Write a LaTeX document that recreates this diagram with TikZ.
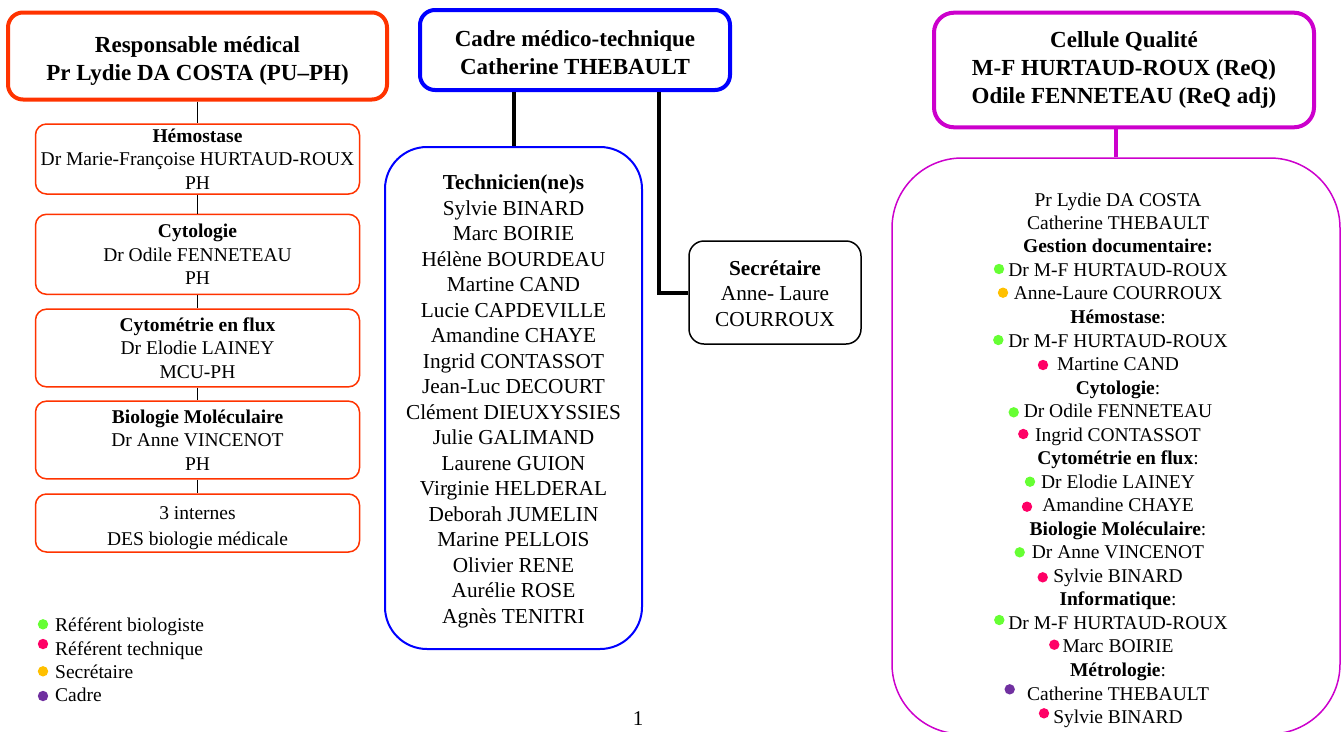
\documentclass[tikz,border=0pt]{standalone}
\usepackage{fontspec}
\setmainfont{Liberation Serif}
\definecolor{redor}{HTML}{FF3300}
\definecolor{bblue}{HTML}{0000FF}
\definecolor{mag}{HTML}{CC00CC}
\definecolor{bgreen}{HTML}{66FF33}
\definecolor{bpink}{HTML}{FF0066}
\definecolor{byellow}{HTML}{FFC000}
\definecolor{bpurple}{HTML}{7030A0}
\newcommand{\tallstrut}[1]{\rule{0pt}{#1}}
\begin{document}
\begin{tikzpicture}[x=1pt,y=-1pt,
  head/.style={draw, line width=4pt, rounded corners=15pt, align=center, inner sep=0pt,
    font=\fontsize{23}{27.8}\selectfont\bfseries},
  subbox/.style={draw=redor, line width=1.5pt, rounded corners=11pt, align=center, inner sep=0pt,
    minimum width=324pt, font=\fontsize{19.5}{23.3}\selectfont},
  bigfont/.style={font=\fontsize{21.3}{25.5}\selectfont},
  qline/.style={inner sep=0pt, anchor=base, font=\fontsize{19.5}{23.5}\selectfont},
  leg/.style={inner sep=0pt, anchor=base west, font=\fontsize{19.5}{23.5}\selectfont},
  thinlink/.style={draw, line width=1.2pt},
  thicklink/.style={draw, line width=4pt},
]
\useasboundingbox (0,0) rectangle (1341,731);
\begin{scope}
\clip (0,0) rectangle (1341,731);

% headers
\node[head, draw=redor, minimum width=379pt, minimum height=87pt] (resp) at (197.5,56)
  {\tallstrut{26pt}Responsable médical\\Pr Lydie DA COSTA (PU–PH)};
\node[head, draw=bblue, minimum width=310pt, minimum height=80pt] (cadre) at (575,50)
  {\tallstrut{22pt}Cadre médico-technique\\Catherine THEBAULT};
\node[head, draw=mag, rounded corners=20pt, minimum width=380pt, minimum height=114.6pt, font=\fontsize{23}{28.3}\selectfont\bfseries] (cq) at (1124,70)
  {Cellule Qualité\\M-F HURTAUD-ROUX (ReQ)\\Odile FENNETEAU (ReQ adj)};

% left column
\node[subbox, minimum height=70pt] (hemo) at (197.5,159)
  {\textbf{Hémostase}\\Dr Marie-Françoise HURTAUD-ROUX\\PH};
\node[subbox, minimum height=80pt] (cyto) at (197.5,254.3)
  {\textbf{Cytologie}\\Dr Odile FENNETEAU\\PH};
\node[subbox, minimum height=77.7pt] (flux) at (197.5,348)
  {\textbf{Cytométrie en flux}\\Dr Elodie LAINEY\\MCU-PH};
\node[subbox, minimum height=77.7pt] (biomol) at (197.5,440)
  {\textbf{Biologie Moléculaire}\\Dr Anne VINCENOT\\PH};
\node[subbox, minimum height=58pt, font=\fontsize{19.5}{25.5}\selectfont] (int) at (197.5,523)
  {\tallstrut{23pt}3 internes\\DES biologie médicale};
\draw[thinlink] (resp.south) -- (hemo.north);
\draw[thinlink] (hemo.south) -- (cyto.north);
\draw[thinlink] (cyto.south) -- (flux.north);
\draw[thinlink] (flux.south) -- (biomol.north);
\draw[thinlink] (biomol.south) -- (int.north);

% technicians
\node[draw=bblue, line width=2pt, rounded corners=42pt, minimum width=257pt, minimum height=502pt,
  align=center, inner sep=0pt, bigfont] (tech) at (513.5,398)
  {\tallstrut{22pt}\textbf{Technicien(ne)s}\\Sylvie BINARD\\Marc BOIRIE\\Hélène BOURDEAU\\Martine CAND\\Lucie CAPDEVILLE\\
   Amandine CHAYE\\Ingrid CONTASSOT\\Jean-Luc DECOURT\\Clément DIEUXYSSIES\\Julie GALIMAND\\
   Laurene GUION\\Virginie HELDERAL\\Deborah JUMELIN\\Marine PELLOIS\\Olivier RENE\\Aurélie ROSE\\Agnès TENITRI};
\node[draw, line width=1.5pt, rounded corners=15pt, minimum width=172pt, minimum height=103pt,
  align=center, inner sep=0pt, bigfont] (secr) at (775,292.5)
  {\tallstrut{17pt}\textbf{Secrétaire}\\Anne- Laure\\COURROUX};
\coordinate (sx) at (659,0);
\draw[thicklink] (tech.north) -- (tech.north |- cadre.south);
\draw[thicklink] (cadre.south -| sx) |- (secr.west);

% quality cell
\node[draw=mag, line width=1.5pt, rounded corners=70pt, minimum width=448pt, minimum height=576pt, inner sep=0pt] (qbox) at (1116,446) {};
\draw[thicklink, draw=mag] (qbox.north) -- (qbox.north |- cq.south);

\foreach \n/\y/\t in {
  1/206.5/{Pr Lydie DA COSTA},
  2/229.5/{Catherine THEBAULT},
  3/252.5/{\textbf{Gestion documentaire:}},
  4/276.5/{Dr M-F HURTAUD-ROUX},
  5/299.5/{Anne-Laure COURROUX},
  6/323.5/{\textbf{Hémostase}:},
  7/347.5/{Dr M-F HURTAUD-ROUX},
  8/370.5/{Martine CAND},
  9/394.5/{\textbf{Cytologie}:},
  10/417.5/{Dr Odile FENNETEAU},
  11/441.5/{Ingrid CONTASSOT},
  12/464.5/{\textbf{Cytométrie en flux}:},
  13/488.5/{Dr Elodie LAINEY},
  14/511.5/{Amandine CHAYE},
  15/535.5/{\textbf{Biologie Moléculaire}:},
  16/558.5/{Dr Anne VINCENOT},
  17/582.5/{Sylvie BINARD},
  18/605.5/{\textbf{Informatique}:},
  19/629.5/{Dr M-F HURTAUD-ROUX},
  20/652.5/{Marc BOIRIE},
  21/676.5/{\textbf{Métrologie}:},
  22/700.5/{Catherine THEBAULT},
  23/723.5/{Sylvie BINARD}}
  \node[qline] (q\n) at (1118,\y) {\t};

\foreach \x/\y/\c in {999/269/bgreen, 1003/292.7/byellow, 998.3/340/bgreen, 1043/365/bpink,
  1013.7/412.3/bgreen, 1023.3/434/bpink, 1030/481.7/bgreen, 1027/506.7/bpink,
  1019.7/552.3/bgreen, 1042.7/577.3/bpink, 999.3/620/bgreen, 1054.3/644.7/bpink,
  1009.7/689.3/bpurple, 1044/713.3/bpink}
  \fill[\c] (\x,\y) circle[radius=5.2pt];

% legend
\node[leg] (l1) at (55,631) {Référent biologiste};
\node[leg] (l2) at (55,655) {Référent technique};
\node[leg] (l3) at (55,678.3) {Secrétaire};
\node[leg] (l4) at (55,701.7) {Cadre};
\fill[bgreen] (43,624.3) circle[radius=5.2pt];
\fill[bpink] (43,644) circle[radius=5.2pt];
\fill[byellow] (43,671.3) circle[radius=5.2pt];
\fill[bpurple] (43,696) circle[radius=5.2pt];

\node[anchor=base, inner sep=0pt, font=\fontsize{21}{25}\selectfont] (pg) at (638,725) {1};
\end{scope}
\end{tikzpicture}
\end{document}
